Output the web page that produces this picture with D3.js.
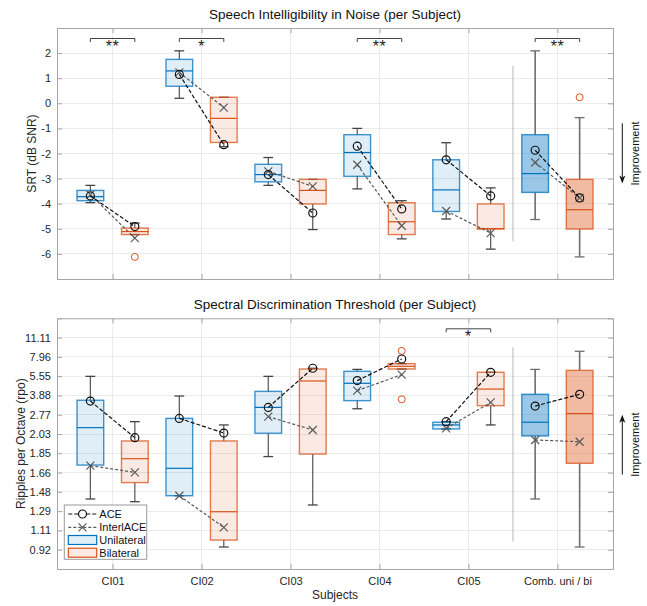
<!DOCTYPE html>
<html>
<head>
<meta charset="utf-8">
<script src="https://cdn.jsdelivr.net/npm/d3@7"></script>
<style>
  body { margin: 0; background: #fff; }
  svg { font-family: "Liberation Sans", Arial, sans-serif; }
</style>
</head>
<body>
<svg id="chart" width="647" height="606"></svg>
<script>

// subjects (x categories)
const subjects = ["CI01", "CI02", "CI03", "CI04", "CI05", "Comb. uni / bi"];

// --- Speech intelligibility (SRT, dB SNR) ---
// box stats: [whisker low, q1, median, q3, whisker high]
const srtUniBox = [
  [-3.96, -3.88, -3.72, -3.47, -3.27],
  [0.20, 0.68, 1.29, 1.75, 2.09],
  [-3.27, -3.13, -2.84, -2.43, -2.16],
  [-3.41, -2.91, -1.96, -1.25, -1.00],
  [-4.61, -4.31, -3.45, -2.25, -1.57],
  [-4.63, -3.55, -2.80, -1.25, 2.09]
];
const srtBiBox = [
  [-5.23, -5.23, -5.11, -4.97, -4.77],
  [-1.73, -1.56, -0.60, 0.24, 0.24],
  [-5.03, -4.01, -3.47, -3.03, -3.03],
  [-5.40, -5.23, -4.72, -3.96, -3.88],
  [-5.81, -5.01, -4.99, -4.01, -3.37],
  [-6.12, -5.01, -4.24, -3.03, -0.57]
];
const srtUniACE = [-3.69, 1.15, -2.84, -1.71, -2.25, -1.87];
const srtBiACE = [-4.91, -1.65, -4.37, -4.21, -3.69, -3.77];
const srtUniInterl = [-3.64, 1.23, -2.71, -2.45, -4.29, -2.36];
const srtBiInterl = [-5.37, -0.17, -3.31, -4.88, -5.17, -3.77];
const srtBiOutliers = [[0, -6.12], [5, 0.24]];   // [subject index, value]
const srtStars = [[0, "**"], [1, "*"], [3, "**"], [5, "**"]];
const srtTicks = [-6, -5, -4, -3, -2, -1, 0, 1, 2];

// --- Spectral discrimination (values in axis levels, see rpoLabels) ---
const rpoLabels = ["0.92", "1.11", "1.29", "1.48", "1.66", "1.85",
                   "2.03", "2.77", "3.88", "5.55", "7.96", "11.11"];
const rpoUniBox = [
  [3.63, 5.39, 7.33, 8.75, 9.99],
  [3.80, 3.80, 5.22, 7.81, 8.97],
  [5.83, 7.04, 8.38, 9.21, 9.99],
  [8.31, 8.73, 9.63, 10.25, 10.35],
  [7.26, 7.26, 7.47, 7.61, 7.64],
  [3.63, 6.90, 7.61, 9.06, 10.35]
];
const rpoBiBox = [
  [3.49, 4.48, 5.72, 6.64, 7.64],
  [1.14, 1.50, 2.97, 6.64, 7.47],
  [3.32, 5.96, 9.75, 10.37, 10.41],
  [10.37, 10.37, 10.51, 10.65, 10.65],
  [7.47, 8.47, 9.33, 10.20, 10.20],
  [1.14, 5.48, 8.06, 10.30, 11.29]
];
const rpoUniACE = [8.71, 7.81, 8.38, 9.77, 7.64, 8.45];
const rpoBiACE = [6.81, 7.05, 10.41, 10.89, 10.20, 9.06];
const rpoUniInterl = [5.36, 3.80, 7.90, 9.25, 7.29, 6.69];
const rpoBiInterl = [5.01, 2.16, 7.21, 10.08, 8.64, 6.60];
const rpoBiOutliers = [[3, 11.31], [3, 8.80]];
const rpoStars = [[4, "*"]];

const blue = "#0072BD";
const orange = "#D95319";
const axisGray = "#a6a6a6";
const gridGray = "#ebebeb";

const svg = d3.select("#chart");
const left = 57, right = 613;

// x scale shared by both panels
const x = d3.scaleLinear().domain([0.375, 6.625]).range([left, right]);
const unit = x(1) - x(0);
const boxW = 0.3 * unit;
const capW = 0.11 * unit;

/* draw one panel */
function drawPanel(p) {
  const g = svg.append("g");
  const y = p.y;
  const [y0, y1] = y.range();   // bottom, top

  // grid lines
  g.selectAll("line.ygrid").data(p.yTicks).enter().append("line")
    .attr("x1", left).attr("x2", right)
    .attr("y1", d => y(d)).attr("y2", d => y(d))
    .attr("stroke", gridGray).attr("shape-rendering", "crispEdges");
  g.selectAll("line.xgrid").data(d3.range(1, 7)).enter().append("line")
    .attr("x1", d => x(d)).attr("x2", d => x(d))
    .attr("y1", y1).attr("y2", y0)
    .attr("stroke", gridGray).attr("shape-rendering", "crispEdges");

  // separator before combined group
  g.append("line")
    .attr("x1", x(5.5)).attr("x2", x(5.5))
    .attr("y1", y(p.sepRange[0])).attr("y2", y(p.sepRange[1]))
    .attr("stroke", "#c4c4c4").attr("stroke-width", 1.2);

  // axes
  const ax = [
    g.append("g").attr("transform", `translate(0,${y0})`)
      .call(d3.axisBottom(x).tickValues(d3.range(1, 7)).tickSize(-5).tickPadding(8)
        .tickFormat((d, i) => p.xLabels ? subjects[i] : "")),
    g.append("g").attr("transform", `translate(0,${y1})`)
      .call(d3.axisTop(x).tickValues(d3.range(1, 7)).tickSize(-5).tickFormat("")),
    g.append("g").attr("transform", `translate(${left},0)`)
      .call(d3.axisLeft(y).tickValues(p.yTicks).tickSize(-5).tickPadding(6)
        .tickFormat(p.yFormat)),
    g.append("g").attr("transform", `translate(${right},0)`)
      .call(d3.axisRight(y).tickValues(p.yTicks).tickSize(-5).tickFormat(""))
  ];
  ax.forEach(a => {
    a.selectAll("path").attr("stroke", axisGray);
    a.selectAll("line").attr("stroke", axisGray);
    a.selectAll("text").attr("fill", "#262626").style("font-size", "11px");
  });

  // boxes
  const groups = [
    {box: p.uniBox, off: -0.25, color: blue},
    {box: p.biBox, off: 0.25, color: orange}
  ];
  groups.forEach(grp => {
    grp.box.forEach((s, i) => {
      const cx = x(i + 1 + grp.off);
      const comb = i === 5;
      // whiskers
      [[s[0], s[1]], [s[3], s[4]]].forEach(([a, b]) => {
        if (Math.abs(a - b) < 1e-6) return;
        g.append("line").attr("x1", cx).attr("x2", cx)
          .attr("y1", y(a)).attr("y2", y(b))
          .attr("stroke", comb ? "#6e6e6e" : "#555").attr("stroke-width", comb ? 1.6 : 1.2);
      });
      [s[0], s[4]].forEach(v => {
        g.append("line").attr("x1", cx - capW / 2).attr("x2", cx + capW / 2)
          .attr("y1", y(v)).attr("y2", y(v))
          .attr("stroke", comb ? "#6e6e6e" : "#444").attr("stroke-width", 1.3);
      });
      // box body
      g.append("rect")
        .attr("x", cx - boxW / 2).attr("width", boxW)
        .attr("y", y(s[3])).attr("height", Math.max(y(s[1]) - y(s[3]), 1))
        .attr("fill", grp.color).attr("fill-opacity", comb ? 0.4 : 0.12)
        .attr("stroke", grp.color).attr("stroke-opacity", 0.75).attr("stroke-width", 1.4);
      // median
      g.append("line")
        .attr("x1", cx - boxW / 2).attr("x2", cx + boxW / 2)
        .attr("y1", y(s[2])).attr("y2", y(s[2]))
        .attr("stroke", grp.color).attr("stroke-width", 1.2);
    });
  });

  // outliers
  g.selectAll("circle.out").data(p.biOutliers).enter().append("circle")
    .attr("cx", d => x(d[0] + 1.25)).attr("cy", d => y(d[1])).attr("r", 3.5)
    .attr("fill", "none").attr("stroke", orange).attr("stroke-width", 1);

  // InterlACE lines
  p.uniInterl.forEach((v, i) => {
    const pts = [[x(i + 0.75), y(v)], [x(i + 1.25), y(p.biInterl[i])]];
    g.append("line")
      .attr("x1", pts[0][0]).attr("y1", pts[0][1])
      .attr("x2", pts[1][0]).attr("y2", pts[1][1])
      .attr("stroke", "#5a5a5a").attr("stroke-width", 1.2).attr("stroke-dasharray", "3,2");
    pts.forEach(([px, py]) => crossMarker(g, px, py));
  });

  // ACE lines
  p.uniACE.forEach((v, i) => {
    const pts = [[x(i + 0.75), y(v)], [x(i + 1.25), y(p.biACE[i])]];
    g.append("line")
      .attr("x1", pts[0][0]).attr("y1", pts[0][1])
      .attr("x2", pts[1][0]).attr("y2", pts[1][1])
      .attr("stroke", "#111").attr("stroke-width", 1.2).attr("stroke-dasharray", "4,2");
    pts.forEach(([px, py]) => {
      g.append("circle").attr("cx", px).attr("cy", py).attr("r", 4)
        .attr("fill", "none").attr("stroke", "#111").attr("stroke-width", 1.2);
    });
  });

  // significance brackets
  p.stars.forEach(([i, s]) => {
    const xa = x(i + 0.75), xb = x(i + 1.25), by = y1 + 10.5;
    g.append("path")
      .attr("d", `M${xa},${by + 3.5}V${by}H${xb}V${by + 3.5}`)
      .attr("fill", "none").attr("stroke", "#444").attr("stroke-width", 1);
    g.append("text").attr("x", (xa + xb) / 2).attr("y", by + 13)
      .attr("text-anchor", "middle").style("font-size", "16px")
      .style("letter-spacing", "0.5px").attr("fill", "#222").text(s);
  });

  // title
  svg.append("text").attr("x", (left + right) / 2).attr("y", y1 - 9.5)
    .attr("text-anchor", "middle").style("font-size", "13.5px").attr("fill", "#111")
    .text(p.title);

  // y label
  svg.append("text")
    .attr("transform", `translate(${p.yLabelX},${(y0 + y1) / 2}) rotate(-90)`)
    .attr("text-anchor", "middle").style("font-size", "12px").attr("fill", "#262626")
    .text(p.yLabel);

  // improvement arrow
  const [ya, yb] = p.arrow.map(v => y(v));   // tail, head
  const dir = yb > ya ? 1 : -1;
  svg.append("line").attr("x1", 622.3).attr("x2", 622.3)
    .attr("y1", ya).attr("y2", yb - dir * 6)
    .attr("stroke", "#111").attr("stroke-width", 1);
  svg.append("path")
    .attr("d", `M${622.3 - 3},${yb - dir * 8}L${622.3},${yb}L${622.3 + 3},${yb - dir * 8}L${622.3},${yb - dir * 6}Z`)
    .attr("fill", "#111");
  svg.append("text")
    .attr("transform", `translate(639,${(ya + yb) / 2}) rotate(-90)`)
    .attr("text-anchor", "middle").style("font-size", "11px").attr("fill", "#111")
    .text("Improvement");
}

/* x marker */
function crossMarker(g, px, py) {
  const r = 4;
  g.append("path")
    .attr("d", `M${px - r},${py - r}L${px + r},${py + r}M${px - r},${py + r}L${px + r},${py - r}`)
    .attr("stroke", "#5a5a5a").attr("stroke-width", 1.2);
}

// top panel
drawPanel({
  y: d3.scaleLinear().domain([-7, 3]).range([279, 28]),
  yTicks: srtTicks,
  yFormat: d => d,
  uniBox: srtUniBox, biBox: srtBiBox,
  uniACE: srtUniACE, biACE: srtBiACE,
  uniInterl: srtUniInterl, biInterl: srtBiInterl,
  biOutliers: srtBiOutliers,
  stars: srtStars,
  sepRange: [-5.5, 1.5],
  xLabels: false,
  title: "Speech Intelligibility in Noise (per Subject)",
  yLabel: "SRT (dB SNR)", yLabelX: 36,
  arrow: [-0.8, -3.2]
});

// bottom panel
drawPanel({
  y: d3.scaleLinear().domain([0, 13]).range([569, 318.3]),
  yTicks: d3.range(1, 13),
  yFormat: (d, i) => rpoLabels[i],
  uniBox: rpoUniBox, biBox: rpoBiBox,
  uniACE: rpoUniACE, biACE: rpoBiACE,
  uniInterl: rpoUniInterl, biInterl: rpoBiInterl,
  biOutliers: rpoBiOutliers,
  stars: rpoStars,
  sepRange: [1.42, 11.5],
  xLabels: true,
  title: "Spectral Discrimination Threshold (per Subject)",
  yLabel: "Ripples per Octave (rpo)", yLabelX: 24.5,
  arrow: [4.9, 8.0]
});

// x label
svg.append("text").attr("x", (left + right) / 2).attr("y", 599)
  .attr("text-anchor", "middle").style("font-size", "12px").attr("fill", "#262626")
  .text("Subjects");

// legend
const leg = svg.append("g").attr("transform", "translate(64.3,505)");
leg.append("rect").attr("width", 82.4).attr("height", 54.3)
  .attr("fill", "#fff").attr("stroke", "#9a9a9a").attr("stroke-width", 1);
const legRows = [9, 22.3, 35, 47.7];
// ACE
leg.append("line").attr("x1", 4).attr("x2", 32.4).attr("y1", legRows[0]).attr("y2", legRows[0])
  .attr("stroke", "#111").attr("stroke-width", 1.2).attr("stroke-dasharray", "4,2");
leg.append("circle").attr("cx", 18.2).attr("cy", legRows[0]).attr("r", 4)
  .attr("fill", "#fff").attr("stroke", "#111").attr("stroke-width", 1.2);
// InterlACE
leg.append("line").attr("x1", 4).attr("x2", 32.4).attr("y1", legRows[1]).attr("y2", legRows[1])
  .attr("stroke", "#5a5a5a").attr("stroke-width", 1.2).attr("stroke-dasharray", "3,2");
crossMarker(leg, 18.2, legRows[1]);
// patches
[[legRows[2], blue], [legRows[3], orange]].forEach(([ry, c]) => {
  leg.append("rect").attr("x", 4).attr("y", ry - 4.5).attr("width", 28.4).attr("height", 9)
    .attr("fill", c).attr("fill-opacity", 0.12).attr("stroke", c).attr("stroke-width", 1.2);
});
["ACE", "InterlACE", "Unilateral", "Bilateral"].forEach((t, i) => {
  leg.append("text").attr("x", 35).attr("y", legRows[i] + 4)
    .style("font-size", "11px").attr("fill", "#111").text(t);
});

</script>
</body>
</html>
